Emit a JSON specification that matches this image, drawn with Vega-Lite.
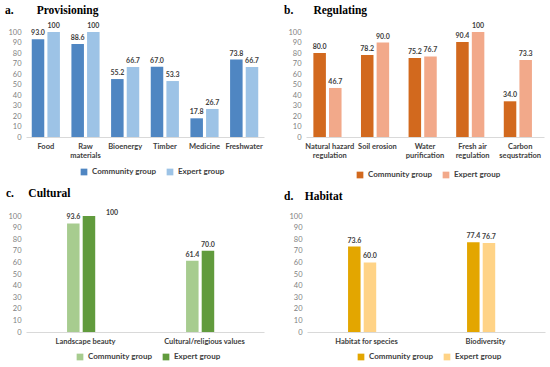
{
  "$schema": "https://vega.github.io/schema/vega-lite/v6.json",
  "padding": {"left": 5, "top": 4, "right": 3, "bottom": 2},
  "background": "white",
  "spacing": 8,
  "resolve": {"scale": {"color": "independent"}, "legend": {"color": "independent"}},
  "config": {
    "view": {"stroke": null},
    "font": "Lato",
    "axisX": {"domainColor": "#d9d9d9", "ticks": false, "labelAngle": 0, "labelFont": "Lato", "labelFontWeight": "bold", "labelFontSize": 7.5, "labelColor": "#404040", "labelPadding": 5, "title": null, "grid": false},
    "axisY": {"domain": false, "ticks": false, "grid": false, "labelFont": "Lato", "labelFontSize": 7.5, "labelColor": "#7f7f7f", "labelPadding": 5, "title": null},
    "legend": {"orient": "none", "legendX": 52, "legendY": 137, "padding": 0, "direction": "horizontal", "title": null, "symbolType": "square", "symbolSize": 45, "symbolStrokeWidth": 0, "labelFont": "Lato", "labelFontWeight": "bold", "labelFontSize": 8, "labelColor": "#404040", "columnPadding": 9},
    "title": {"anchor": "start", "frame": "group", "font": "Liberation Serif", "fontSize": 11.5, "fontWeight": "bold", "color": "#000000", "offset": 6},
    "text": {"font": "Lato", "fontWeight": "bold", "fontSize": 7, "color": "#404040"}
  },
  "vconcat": [
    {
      "spacing": 20,
      "resolve": {"scale": {"color": "independent"}, "legend": {"color": "independent"}},
      "hconcat": [
        {
          "width": 238, "height": 105,
          "title": {"text": "a.\u00a0\u00a0\u00a0\u00a0\u00a0\u00a0\u00a0\u00a0Provisioning", "dx": -21},
          "data": {"values": [
            {"service": "Food", "group": "Community group", "value": 93.0},
            {"service": "Food", "group": "Expert group", "value": 100},
            {"service": "Raw materials", "group": "Community group", "value": 88.6},
            {"service": "Raw materials", "group": "Expert group", "value": 100},
            {"service": "Bioenergy", "group": "Community group", "value": 55.2},
            {"service": "Bioenergy", "group": "Expert group", "value": 66.7},
            {"service": "Timber", "group": "Community group", "value": 67.0},
            {"service": "Timber", "group": "Expert group", "value": 53.3},
            {"service": "Medicine", "group": "Community group", "value": 17.8},
            {"service": "Medicine", "group": "Expert group", "value": 26.7},
            {"service": "Freshwater", "group": "Community group", "value": 73.8},
            {"service": "Freshwater", "group": "Expert group", "value": 66.7}
          ]},
          "transform": [{"calculate": "datum.value == 100 ? '100' : format(datum.value, '.1f')", "as": "label"}],
          "encoding": {
            "x": {"field": "service", "type": "nominal", "sort": null, "scale": {"paddingInner": 0.29, "paddingOuter": 0.145},
                  "axis": {"labelExpr": "datum.label == 'Raw materials' ? ['Raw', 'materials'] : datum.label"}},
            "xOffset": {"field": "group", "type": "nominal", "sort": ["Community group", "Expert group"], "scale": {"paddingInner": 0.2}},
            "y": {"field": "value", "type": "quantitative", "scale": {"domain": [0, 100], "nice": false}, "axis": {"values": [0, 10, 20, 30, 40, 50, 60, 70, 80, 90, 100]}}
          },
          "layer": [
            {"mark": {"type": "bar"},
             "encoding": {"color": {"field": "group", "type": "nominal", "sort": ["Community group", "Expert group"], "scale": {"range": ["#4f86c2", "#9dc3e6"]}, "legend": {"legendX": 54, "legendY": 136}}}},
            {"mark": {"type": "text", "dy": -6}, "encoding": {"text": {"field": "label"}}}
          ]
        },
        {
          "width": 238, "height": 105,
          "title": {"text": "b.\u00a0\u00a0\u00a0\u00a0\u00a0\u00a0\u00a0Regulating", "dx": -22},
          "data": {"values": [
            {"service": "Natural hazard regulation", "group": "Community group", "value": 80.0},
            {"service": "Natural hazard regulation", "group": "Expert group", "value": 46.7},
            {"service": "Soil erosion", "group": "Community group", "value": 78.2},
            {"service": "Soil erosion", "group": "Expert group", "value": 90.0},
            {"service": "Water purification", "group": "Community group", "value": 75.2},
            {"service": "Water purification", "group": "Expert group", "value": 76.7},
            {"service": "Fresh air regulation", "group": "Community group", "value": 90.4},
            {"service": "Fresh air regulation", "group": "Expert group", "value": 100},
            {"service": "Carbon sequstration", "group": "Community group", "value": 34.0},
            {"service": "Carbon sequstration", "group": "Expert group", "value": 73.3}
          ]},
          "transform": [{"calculate": "datum.value == 100 ? '100' : format(datum.value, '.1f')", "as": "label"}],
          "encoding": {
            "x": {"field": "service", "type": "nominal", "sort": null, "scale": {"paddingInner": 0.31, "paddingOuter": 0.155},
                  "axis": {"labelExpr": "datum.label == 'Natural hazard regulation' ? ['Natural hazard', 'regulation'] : datum.label == 'Water purification' ? ['Water', 'purification'] : datum.label == 'Fresh air regulation' ? ['Fresh air', 'regulation'] : datum.label == 'Carbon sequstration' ? ['Carbon', 'sequstration'] : datum.label"}},
            "xOffset": {"field": "group", "type": "nominal", "sort": ["Community group", "Expert group"], "scale": {"paddingInner": 0.2}},
            "y": {"field": "value", "type": "quantitative", "scale": {"domain": [0, 100], "nice": false}, "axis": {"values": [0, 10, 20, 30, 40, 50, 60, 70, 80, 90, 100]}}
          },
          "layer": [
            {"mark": {"type": "bar"},
             "encoding": {"color": {"field": "group", "type": "nominal", "sort": ["Community group", "Expert group"], "scale": {"range": ["#d2691e", "#f2a98a"]}, "legend": {"legendX": 50, "legendY": 139}}}},
            {"mark": {"type": "text", "dy": -6}, "encoding": {"text": {"field": "label"}}}
          ]
        }
      ]
    },
    {
      "spacing": 20,
      "resolve": {"scale": {"color": "independent"}, "legend": {"color": "independent"}},
      "hconcat": [
        {
          "width": 238, "height": 116,
          "title": {"text": "c.\u00a0\u00a0\u00a0\u00a0\u00a0Cultural", "dx": -20, "offset": 10},
          "data": {"values": [
            {"service": "Landscape beauty", "group": "Community group", "value": 93.6},
            {"service": "Landscape beauty", "group": "Expert group", "value": 100},
            {"service": "Cultural/religious values", "group": "Community group", "value": 61.4},
            {"service": "Cultural/religious values", "group": "Expert group", "value": 70.0}
          ]},
          "transform": [{"calculate": "datum.value == 100 ? '100' : format(datum.value, '.1f')", "as": "label"}],
          "encoding": {
            "x": {"field": "service", "type": "nominal", "sort": null, "scale": {"paddingInner": 0.69, "paddingOuter": 0.345}},
            "xOffset": {"field": "group", "type": "nominal", "sort": ["Community group", "Expert group"], "scale": {"paddingInner": 0.2}},
            "y": {"field": "value", "type": "quantitative", "scale": {"domain": [0, 100], "nice": false}, "axis": {"values": [0, 10, 20, 30, 40, 50, 60, 70, 80, 90, 100]}}
          },
          "layer": [
            {"mark": {"type": "bar"},
             "encoding": {"color": {"field": "group", "type": "nominal", "sort": ["Community group", "Expert group"], "scale": {"range": ["#a7cc8f", "#619b3d"]}, "legend": {"legendX": 50, "legendY": 137}}}},
            {"transform": [{"filter": "datum.value < 100"}],
             "mark": {"type": "text", "dy": -6}, "encoding": {"text": {"field": "label"}}},
            {"transform": [{"filter": "datum.value == 100"}],
             "mark": {"type": "text", "dx": 17, "dy": -3, "align": "left"}, "encoding": {"text": {"field": "label"}}}
          ]
        },
        {
          "width": 238, "height": 116,
          "title": {"text": "d.\u00a0\u00a0\u00a0\u00a0Habitat", "dx": -23, "offset": 10},
          "data": {"values": [
            {"service": "Habitat for species", "group": "Community group", "value": 73.6},
            {"service": "Habitat for species", "group": "Expert group", "value": 60.0},
            {"service": "Biodiversity", "group": "Community group", "value": 77.4},
            {"service": "Biodiversity", "group": "Expert group", "value": 76.7}
          ]},
          "transform": [{"calculate": "datum.value == 100 ? '100' : format(datum.value, '.1f')", "as": "label"}],
          "encoding": {
            "x": {"field": "service", "type": "nominal", "sort": null, "scale": {"paddingInner": 0.69, "paddingOuter": 0.345}},
            "xOffset": {"field": "group", "type": "nominal", "sort": ["Community group", "Expert group"], "scale": {"paddingInner": 0.28}},
            "y": {"field": "value", "type": "quantitative", "scale": {"domain": [0, 100], "nice": false}, "axis": {"values": [0, 10, 20, 30, 40, 50, 60, 70, 80, 90, 100]}}
          },
          "layer": [
            {"mark": {"type": "bar"},
             "encoding": {"color": {"field": "group", "type": "nominal", "sort": ["Community group", "Expert group"], "scale": {"range": ["#e3a600", "#ffd386"]}, "legend": {"legendX": 50, "legendY": 137}}}},
            {"mark": {"type": "text", "dy": -6}, "encoding": {"text": {"field": "label"}}}
          ]
        }
      ]
    }
  ]
}
